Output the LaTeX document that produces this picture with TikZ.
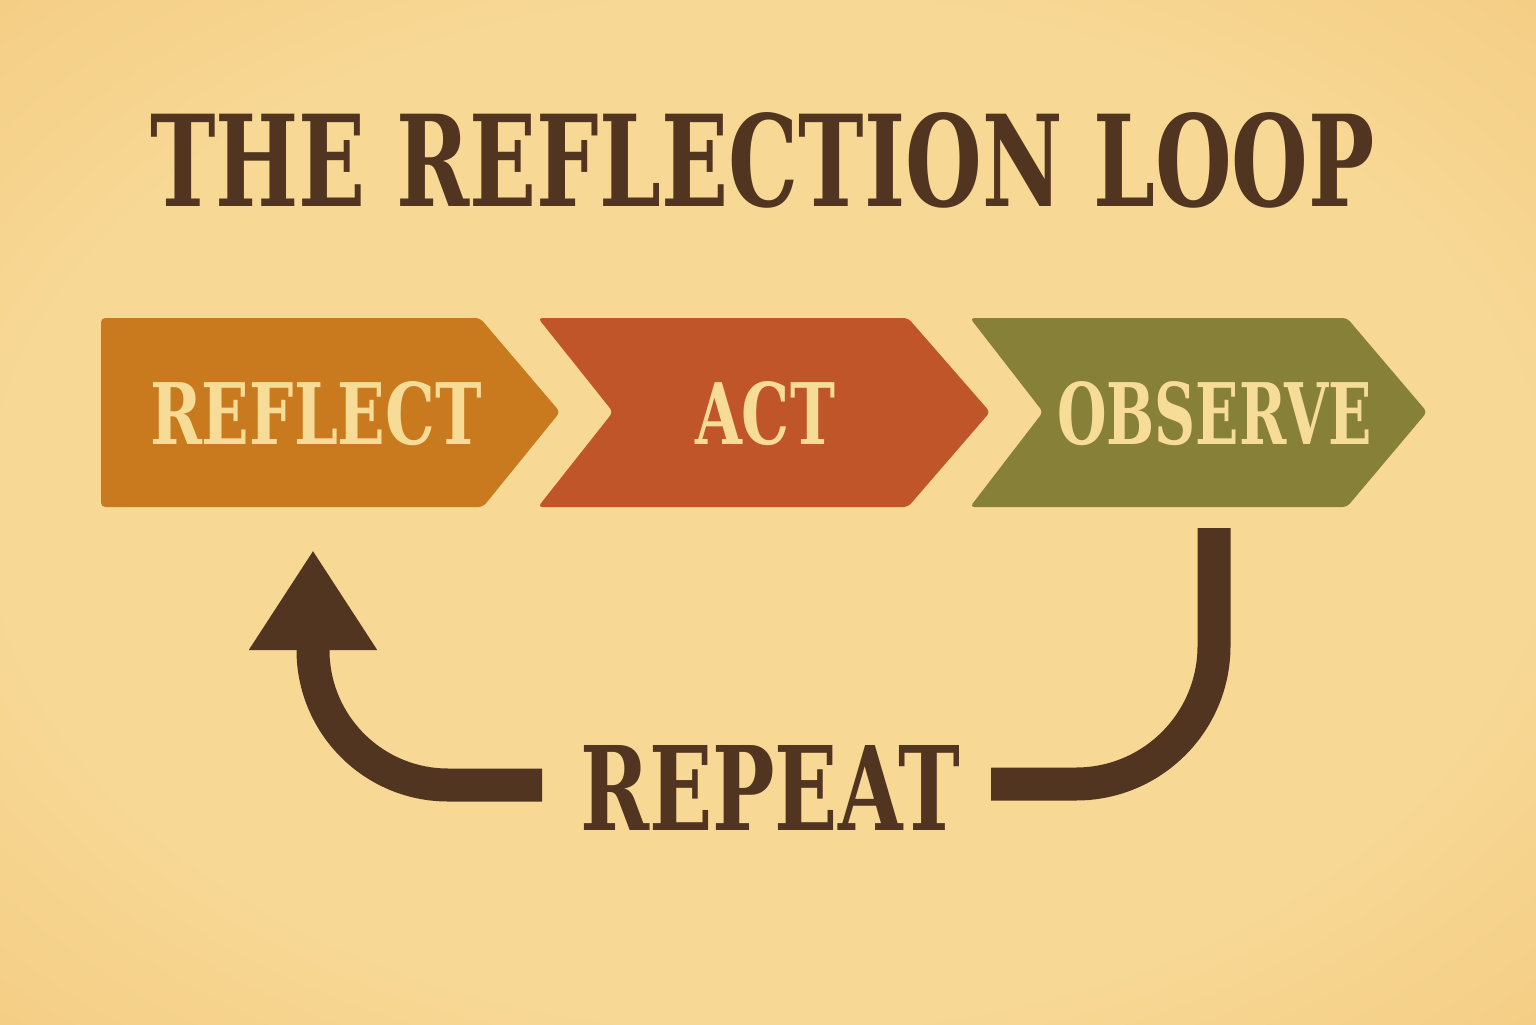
\documentclass[tikz,border=0pt]{standalone}
\usepackage{fontspec}
\usepackage{graphicx}
\usetikzlibrary{arrows.meta}
\setmainfont{DejaVu Serif}

\definecolor{papermid}{HTML}{F7D895}
\definecolor{paperedge}{HTML}{EEB45B}
\definecolor{reflectc}{HTML}{C97A1F}
\definecolor{actc}{HTML}{C0552A}
\definecolor{observec}{HTML}{878039}
\definecolor{creamc}{HTML}{F7DC98}
\definecolor{brownc}{HTML}{523521}
\pgfdeclareradialshading{paper}{\pgfpoint{0bp}{0bp}}{color(0bp)=(papermid); color(25bp)=(papermid); color(62bp)=(paperedge); color(80bp)=(paperedge)}

\begin{document}
\begin{tikzpicture}[inner sep = 0pt, font = \bfseries,
    chev/.style = {rounded corners = 1.2pt},
    steptext/.style = {text = creamc},
    loopline/.style = {draw = brownc, line width = 0.33cm}]
  %%% paper %%%
  \useasboundingbox (0,0) rectangle (15.36,10.24);
  \fill[shading=paper] (0,0) rectangle (15.36,10.24);

  %%% title %%%
  \node[text=brownc] (title) at (7.625,8.64) {\resizebox{12.25cm}{0.94cm}{THE REFLECTION LOOP}};

  %%% chevrons %%%
  % reflect
  \fill[reflectc, chev] (1.01,7.06) -- (4.80,7.06) -- (5.60,6.12) -- (4.83,5.17) -- (1.01,5.17) -- cycle;
  \node[steptext] (reflect) at (3.16,6.10) {\resizebox{3.32cm}{0.63cm}{REFLECT}};
  % act
  \fill[actc, chev] (5.38,7.06) -- (9.08,7.06) -- (9.90,6.12) -- (9.08,5.17) -- (5.38,5.17) -- (6.13,6.12) -- cycle;
  \node[steptext] (act) at (7.65,6.10) {\resizebox{1.40cm}{0.63cm}{ACT}};
  % observe
  \fill[observec, chev] (9.70,7.06) -- (13.47,7.06) -- (14.27,6.12) -- (13.47,5.17) -- (9.70,5.17) -- (10.43,6.12) -- cycle;
  \node[steptext] (observe) at (12.145,6.10) {\resizebox{3.15cm}{0.63cm}{OBSERVE}};

  %%% repeat loop %%%
  \node[text=brownc] (repeat) at (7.70,2.365) {\resizebox{3.80cm}{0.85cm}{REPEAT}};
  \coordinate (obsend) at (12.14,4.96);
  \coordinate (repright) at (9.91,2.40);
  \coordinate (repleft) at (5.42,2.39);
  \coordinate (refend) at (3.13,4.74);
  % right half
  \draw[loopline] (obsend) -- (12.14,3.78) arc[start angle=0, end angle=-90, radius=1.38] -- (repright);
  % left half with the head
  \draw[loopline, -{Triangle[width=1.21cm, length=1.0cm]}] (repleft) -- (4.48,2.39)
    arc[start angle=270, end angle=180, radius=1.35] -- (refend);
\end{tikzpicture}
\end{document}
